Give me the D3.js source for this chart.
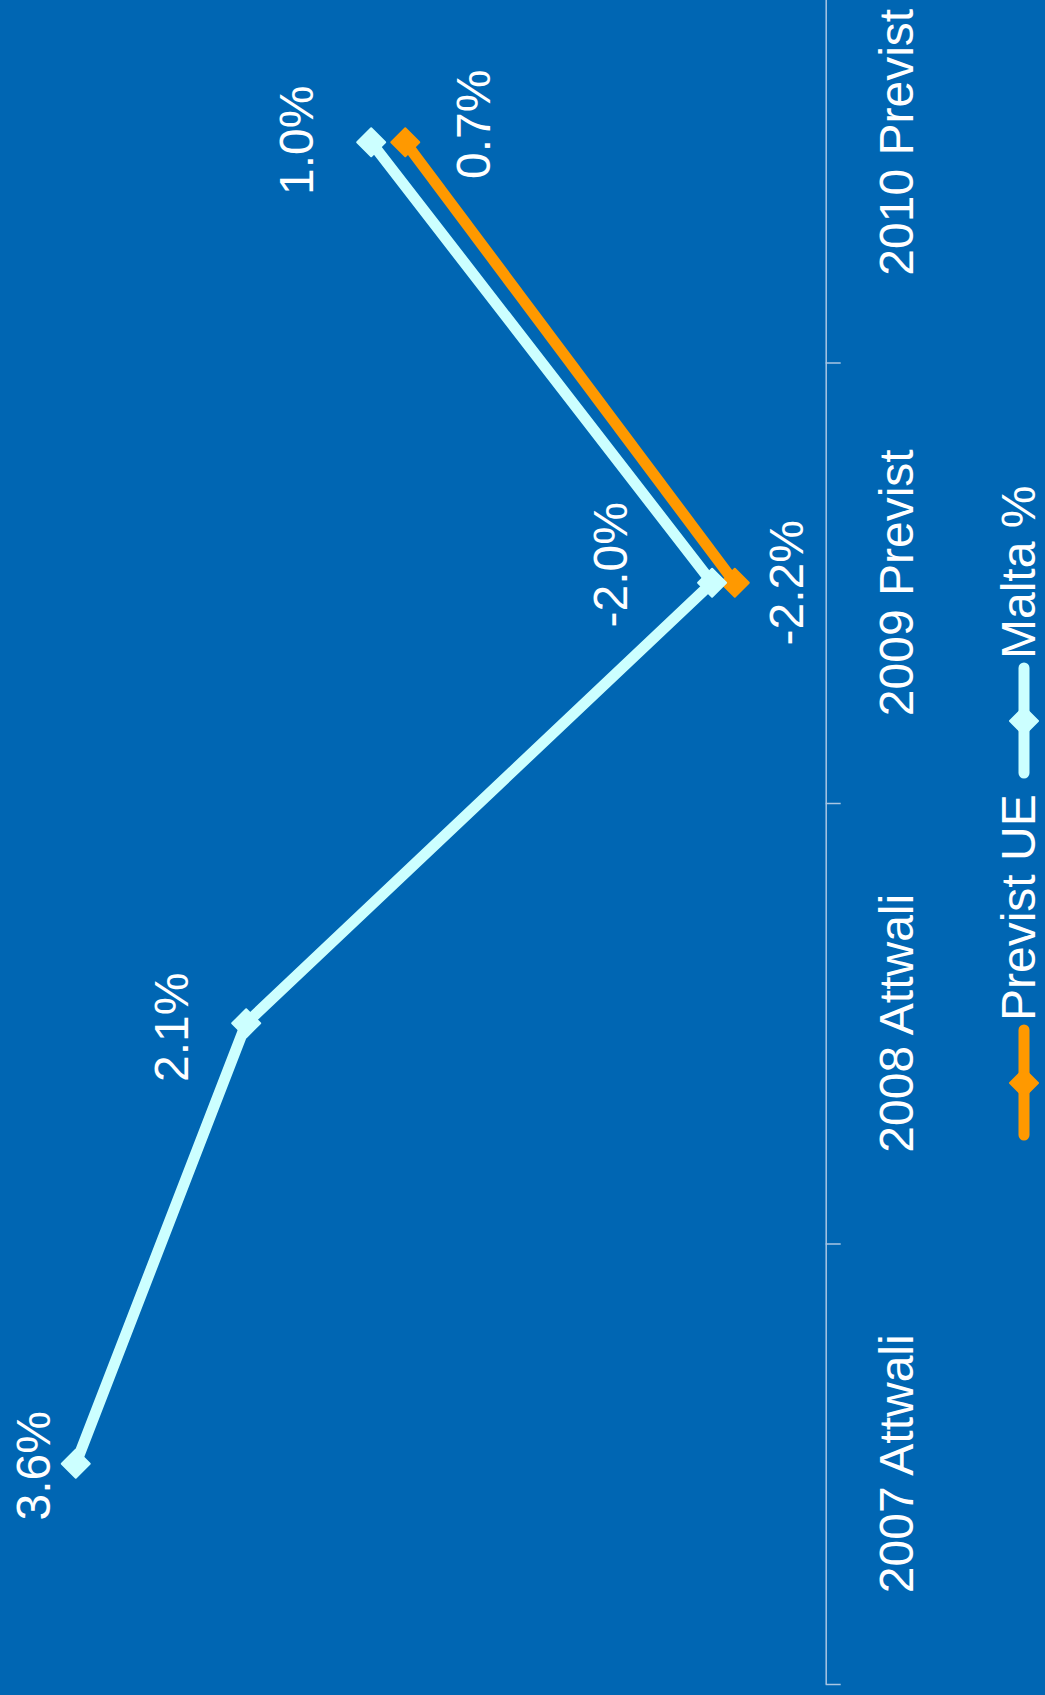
<!DOCTYPE html>
<html><head><meta charset="utf-8">
<script src="https://cdn.jsdelivr.net/npm/d3@7"></script>
<style>
html,body{margin:0;padding:0;background:#0066b3;}
svg{display:block;}
text{font-family:"Liberation Sans",Arial,sans-serif;fill:#ffffff;}
</style></head>
<body>
<script>
// ---- data ----
const categories = ["2007 Attwali", "2008 Attwali", "2009 Previst", "2010 Previst"];
const seriesNames = ["Previst UE", "Malta %"];
const previstUE = [null, null, -2.2, 0.7];
const malta = [3.6, 2.1, -2.0, 1.0];
const valueDomain = [-3, 4];

// ---- layout / style (not data) ----
const W = 1045, H = 1695;
const colors = ["#ff9900", "#ccffff"];
// label offsets in px (dx along value axis, dy along category axis)
const labelOffsets = [
  [null, null, [51, 0], [68, -18]],
  [[-43, 2], [-75, 4], [-102, -18], [-75, -2]]
];

const svg = d3.select("body").append("svg").attr("width", W).attr("height", H);
svg.append("rect").attr("width", W).attr("height", H).attr("fill", "#0066b3");

const axisX = 825.7;
const yEdge = d3.scaleLinear().domain([0, categories.length]).range([1684, -78]);
const yBand = d3.scaleBand().domain(categories).range([1684, -78]);
const x = d3.scaleLinear().domain(valueDomain).range([axisX, 30.3]);

// category axis
const axis = d3.axisRight(yEdge)
  .tickValues(d3.range(categories.length))
  .tickFormat("")
  .tickSize(15)
  .tickSizeOuter(0);
const gAxis = svg.append("g").attr("transform", `translate(${axisX},0)`).call(axis);
gAxis.selectAll("path,line").attr("stroke", "#a9c6e3").attr("stroke-width", 1.5);

// category labels
svg.append("g").selectAll("text").data(categories).join("text")
  .attr("transform", d => `translate(913,${yBand(d) + yBand.bandwidth() / 2}) rotate(-90)`)
  .attr("text-anchor", "middle")
  .attr("font-size", 48)
  .text(d => d);

const seriesData = [previstUE, malta];
const r = 14;
const diamond = `M0,${-r}L${r},0L0,${r}L${-r},0Z`;

seriesData.forEach((vals, si) => {
  const pts = vals.map((v, i) => ({v, c: categories[i], i}));
  const line = d3.line()
    .defined(d => d.v !== null)
    .x(d => x(d.v))
    .y(d => yBand(d.c) + yBand.bandwidth() / 2);
  svg.append("path").datum(pts)
    .attr("d", line)
    .attr("fill", "none")
    .attr("stroke", colors[si])
    .attr("stroke-width", 11)
    .attr("stroke-linejoin", "round");
  svg.append("g").selectAll("path").data(pts.filter(d => d.v !== null)).join("path")
    .attr("d", diamond)
    .attr("stroke", colors[si]).attr("stroke-width", 2).attr("stroke-linejoin", "round")
    .attr("transform", d => `translate(${x(d.v)},${yBand(d.c) + yBand.bandwidth() / 2})`)
    .attr("fill", colors[si]);
});

// data labels
seriesData.forEach((vals, si) => {
  const pts = vals.map((v, i) => ({v, c: categories[i], i})).filter(d => d.v !== null);
  svg.append("g").selectAll("text").data(pts).join("text")
    .attr("transform", d => {
      const o = labelOffsets[si][d.i];
      return `translate(${x(d.v) + o[0]},${yBand(d.c) + yBand.bandwidth() / 2 + o[1]}) rotate(-90)`;
    })
    .attr("text-anchor", "middle")
    .attr("dy", "0.35em")
    .attr("font-size", 48)
    .text(d => d.v.toFixed(1) + "%");
});

// legend
const legendY = [1135, 773];
const lg = svg.append("g");
seriesNames.forEach((name, si) => {
  const y0 = legendY[si];
  lg.append("line")
    .attr("x1", 1024).attr("x2", 1024)
    .attr("y1", y0).attr("y2", y0 - 105)
    .attr("stroke", colors[si]).attr("stroke-width", 11).attr("stroke-linecap", "round");
  lg.append("path").attr("d", diamond)
    .attr("stroke", colors[si]).attr("stroke-width", 2).attr("stroke-linejoin", "round")
    .attr("transform", `translate(1024,${y0 - 52})`)
    .attr("fill", colors[si]);
  lg.append("text")
    .attr("transform", `translate(1035,${y0 - 114}) rotate(-90)`)
    .attr("text-anchor", "start")
    .attr("font-size", 48)
    .text(name);
});
</script>
</body></html>
